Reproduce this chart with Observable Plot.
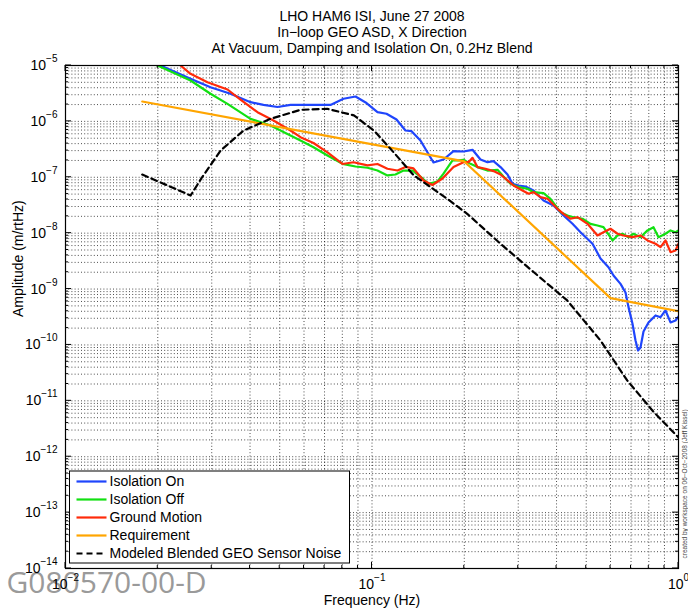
<!DOCTYPE html>
<html><head><meta charset="utf-8">
<script src="https://cdn.jsdelivr.net/npm/d3@7"></script>
<script src="https://cdn.jsdelivr.net/npm/@observablehq/plot@0.6"></script>
<style>
html,body{margin:0;padding:0;background:#fff;overflow:hidden;}
#chart{width:688px;height:611px;}
</style></head><body><div id="chart"></div>
<script>
const FONT = "'Liberation Sans', Arial, Helvetica, sans-serif";

const titleLines = ["LHO HAM6 ISI, June 27 2008", "In\u2212loop GEO ASD, X Direction", "At Vacuum, Damping and Isolation On, 0.2Hz Blend"];
const xLabel = "Frequency (Hz)";
const yLabel = "Amplitude (m/rtHz)";
const watermark = "G080570-00-D";
const creditText = "created by workspace on 06\u2212Oct\u22122008 (Jeff Kissel)";

const xMajorTicks = [0.01, 0.1, 1];
const yMajorTicks = [1e-14, 1e-13, 1e-12, 1e-11, 1e-10, 1e-9, 1e-8, 1e-7, 1e-6, 1e-5];
const minorMantissas = [2, 3, 4, 5, 6, 7, 8, 9];

const legendLabels = ["Isolation On", "Isolation Off", "Ground Motion", "Requirement", "Modeled Blended GEO Sensor Noise"];
const legendColors = ["#1f45fc", "#12e012", "#ff2a0a", "#ffa500", "#000000"];
const legendDash = [null, null, null, null, "6,4"];

const isoOnFreq = [0.01783,0.02042,0.02558,0.02972,0.03454,0.04014,0.04426,0.04917,0.05421,0.0630,0.0732,0.08072,0.08834,0.09596,0.1042,0.1115,0.1202,0.1286,0.1346,0.1439,0.1587,0.1711,0.1845,0.1989,0.2128,0.2259,0.2381,0.2491,0.2626,0.2768,0.2874,0.3006,0.3168,0.3365,0.3627,0.3910,0.4215,0.4510,0.4790,0.5241,0.5565,0.5910,0.6137,0.6469,0.6716,0.6869,0.7078,0.7240,0.7378,0.7516,0.7688,0.7982,0.8414,0.8736,0.9070,0.9417,0.9777,1.0];
const isoOnAmp = [1.39e-5,1.0e-5,5.78e-6,4.09e-6,3.12e-6,2.21e-6,1.98e-6,1.81e-6,1.97e-6,1.98e-6,1.97e-6,2.54e-6,2.79e-6,2.13e-6,1.46e-6,1.37e-6,1.08e-6,6.87e-7,6.68e-7,4.55e-7,1.84e-7,2.08e-7,2.93e-7,2.89e-7,3.10e-7,2.08e-7,1.86e-7,1.94e-7,1.52e-7,1.12e-7,7.65e-8,7.13e-8,6.84e-8,5.81e-8,3.85e-8,3.13e-8,2.07e-8,1.47e-8,1.04e-8,6.46e-9,3.53e-9,2.46e-9,1.75e-9,1.24e-9,8.69e-10,4.75e-10,2.39e-10,1.20e-10,7.97e-11,9.02e-11,1.74e-10,2.53e-10,3.37e-10,3.14e-10,4.14e-10,2.53e-10,2.74e-10,3.23e-10];

const isoOffFreq = [0.01783,0.01996,0.02558,0.02972,0.03377,0.04014,0.04665,0.05421,0.05844,0.06443,0.07157,0.08013,0.08834,0.09667,0.1042,0.1123,0.1193,0.1267,0.1356,0.1439,0.1529,0.1636,0.1711,0.1831,0.1915,0.1989,0.2096,0.2209,0.2381,0.2567,0.2685,0.2831,0.3006,0.3216,0.3365,0.3627,0.3823,0.4121,0.4343,0.4544,0.4862,0.5163,0.5441,0.5692,0.6091,0.6324,0.6566,0.6869,0.7132,0.7516,0.7923,0.8288,0.8605,0.9070,0.9417,0.9777,1.0];
const isoOffAmp = [1.31e-5,1.0e-5,5.39e-6,3.12e-6,2.06e-6,1.11e-6,8.45e-7,5.59e-7,4.55e-7,3.45e-7,2.45e-7,1.74e-7,1.56e-7,1.48e-7,1.32e-7,1.08e-7,1.12e-7,1.32e-7,1.32e-7,1.03e-7,7.65e-8,8.41e-8,1.16e-7,2.00e-7,2.00e-7,2.06e-7,1.74e-7,1.52e-7,1.32e-7,1.36e-7,1.03e-7,7.65e-8,6.65e-8,6.23e-8,5.41e-8,5.19e-8,4.12e-8,2.38e-8,2.07e-8,1.93e-8,1.81e-8,1.47e-8,1.37e-8,1.28e-8,7.40e-9,9.10e-9,9.76e-9,8.48e-9,9.76e-9,8.48e-9,1.12e-8,1.28e-8,8.48e-9,9.76e-9,1.12e-8,1.04e-8,1.12e-8];

const groundFreq = [0.02201,0.02373,0.02558,0.02906,0.03377,0.03724,0.04231,0.04771,0.05421,0.05844,0.06443,0.07157,0.08013,0.08702,0.09667,0.1042,0.1123,0.1211,0.1286,0.1366,0.1472,0.1575,0.1698,0.1845,0.1989,0.2065,0.2128,0.2209,0.2346,0.2491,0.2626,0.2768,0.2895,0.3097,0.3240,0.3365,0.3547,0.3738,0.4029,0.4215,0.4442,0.4683,0.5048,0.5441,0.5692,0.5999,0.6324,0.6616,0.7078,0.7516,0.7923,0.8414,0.8736,0.9070,0.9417,0.9777,1.0];
const groundAmp = [1.39e-5,1.0e-5,7.10e-6,5.03e-6,3.72e-6,2.46e-6,1.46e-6,1.04e-6,6.87e-7,5.22e-7,4.11e-7,2.78e-7,1.73e-7,1.86e-7,1.63e-7,1.73e-7,1.42e-7,1.32e-7,1.53e-7,1.44e-7,8.77e-8,7.28e-8,9.52e-8,1.53e-7,1.86e-7,1.86e-7,2.23e-7,1.52e-7,1.42e-7,1.29e-7,1.12e-7,8.77e-8,7.13e-8,5.81e-8,5.07e-8,5.41e-8,4.41e-8,4.12e-8,2.73e-8,2.22e-8,1.81e-8,1.93e-8,1.47e-8,9.10e-9,1.04e-8,1.20e-8,9.76e-9,9.10e-9,8.48e-9,9.10e-9,7.40e-9,6.46e-9,5.62e-9,7.40e-9,4.57e-9,4.90e-9,6.46e-9];

const reqFreq = [0.0178, 0.2, 0.6, 1.0];
const reqAmp = [2.27e-6, 1.92e-7, 6.87e-10, 4.03e-10];

const noiseFreq = [0.0178,0.0256,0.0279,0.0321,0.0381,0.0466,0.0585,0.0714,0.0873,0.1014,0.1149,0.1369,0.176,0.2045,0.2626,0.3373,0.4334,0.5566,0.68,0.8307,1.0];
const noiseAmp = [1.12e-7,4.72e-8,1.0e-7,3.02e-7,6.87e-7,1.11e-6,1.61e-6,1.68e-6,1.28e-6,6.87e-7,3.24e-7,1.08e-7,4.12e-8,2.22e-8,6.46e-9,2.0e-9,6.25e-10,1.2e-10,2.32e-11,6.28e-12,2.21e-12];

const toRows = (fs, as) => fs.map((f, i) => ({f, a: as[i]}));
const isoOn = toRows(isoOnFreq, isoOnAmp);
const isoOff = toRows(isoOffFreq, isoOffAmp);
const ground = toRows(groundFreq, groundAmp);
const req = toRows(reqFreq, reqAmp);
const noise = toRows(noiseFreq, noiseAmp);

const xMinorTicks = xMajorTicks.slice(0, -1).flatMap(d => minorMantissas.map(m => m * d));
const yMinorTicks = yMajorTicks.slice(0, -1).flatMap(d => minorMantissas.map(m => m * d));
const expFmt = d => "10^" + String(Math.round(Math.log10(d))).replace("-", "\u2212");

const gridStyle = {stroke: "#000", strokeOpacity: 0.7, strokeWidth: 1, strokeDasharray: "1,2.2"};
const LW = 2.2;

const plot = Plot.plot({
  width: 688, height: 611,
  marginTop: 65, marginBottom: 43, marginLeft: 65, marginRight: 10,
  style: {fontFamily: FONT, fontSize: "14px", background: "#fff", color: "#000", overflow: "hidden"},
  x: {type: "log", domain: [0.01, 1]},
  y: {type: "log", domain: [1e-14, 1e-5]},
  marks: [
    Plot.gridX({ticks: xMinorTicks.concat(xMajorTicks), ...gridStyle}),
    Plot.gridY({ticks: yMinorTicks.concat(yMajorTicks), ...gridStyle}),
    Plot.text([watermark], {text: d => d, frameAnchor: "bottom-left", textAnchor: "start", lineAnchor: "middle", dx: -59, dy: 15, fontSize: 30, fontFamily: "'Open Sans', 'Noto Sans', sans-serif", fill: "#9a9a9a"}),
    Plot.line(isoOn, {x: "f", y: "a", stroke: legendColors[0], strokeWidth: LW, clip: true}),
    Plot.line(isoOff, {x: "f", y: "a", stroke: legendColors[1], strokeWidth: LW, clip: true}),
    Plot.line(ground, {x: "f", y: "a", stroke: legendColors[2], strokeWidth: LW, clip: true}),
    Plot.line(req, {x: "f", y: "a", stroke: legendColors[3], strokeWidth: LW, clip: true}),
    Plot.line(noise, {x: "f", y: "a", stroke: legendColors[4], strokeWidth: LW, strokeDasharray: legendDash[4], clip: true}),
    Plot.frame({stroke: "#000", strokeWidth: 1.2}),
    Plot.axisX({ticks: xMajorTicks, tickFormat: expFmt, tickSize: 0, tickPadding: 11, fontSize: 14, label: null}),
    Plot.axisY({ticks: yMajorTicks, tickFormat: expFmt, tickSize: 0, tickPadding: 8, fontSize: 14, label: null}),
    Plot.text([titleLines.join("\n")], {text: d => d, frameAnchor: "top", lineAnchor: "middle", dy: -34, lineHeight: 1.15, fontSize: 14}),
    Plot.text([xLabel], {text: d => d, frameAnchor: "bottom", lineAnchor: "middle", dy: 32, fontSize: 14}),
    Plot.text([yLabel], {text: d => d, frameAnchor: "left", rotate: -90, lineAnchor: "middle", dx: -47, fontSize: 14}),
    Plot.text([creditText], {text: d => d, frameAnchor: "bottom-right", rotate: -90, textAnchor: "start", lineAnchor: "middle", dx: 6, dy: -10, fontSize: 6.5, fill: "#444"})
  ]
});

document.getElementById("chart").appendChild(plot);

const svg = d3.select(plot.tagName.toLowerCase() === "svg" ? plot : plot.querySelector("svg"));

// superscript exponents on tick labels
svg.selectAll('g[aria-label$="tick label"] text').each(function () {
  const t = this.textContent;
  const m = t.match(/^10\^(.+)$/);
  if (!m) return;
  const el = d3.select(this);
  el.text(null);
  el.append("tspan").text("10");
  el.append("tspan").attr("font-size", 10).attr("dy", -8).text(m[1]);
});

// inward ticks on all four sides, positioned with Plot's scales
const xs = plot.scale("x"), ys = plot.scale("y");
const sx = d3.scaleLog().domain(xs.domain).range(xs.range);
const sy = d3.scaleLog().domain(ys.domain).range(ys.range);
const [fx0, fx1] = xs.range;
const fyB = Math.max(...ys.range), fyT = Math.min(...ys.range);
const tg = svg.append("g").attr("stroke", "#000").attr("stroke-width", 1).attr("fill", "none");
const tick = (x1, y1, x2, y2) => tg.append("line").attr("x1", x1).attr("y1", y1).attr("x2", x2).attr("y2", y2);
xMajorTicks.forEach(v => { const x = sx(v); tick(x, fyB, x, fyB - 6); tick(x, fyT, x, fyT + 6); });
xMinorTicks.forEach(v => { const x = sx(v); tick(x, fyB, x, fyB - 3); tick(x, fyT, x, fyT + 3); });
yMajorTicks.forEach(v => { const y = sy(v); tick(fx0, y, fx0 + 6, y); tick(fx1, y, fx1 - 6, y); });
yMinorTicks.forEach(v => { const y = sy(v); tick(fx0, y, fx0 + 3, y); tick(fx1, y, fx1 - 3, y); });

// legend box
const lg = svg.append("g").attr("font-family", FONT).attr("font-size", 14).attr("text-anchor", "start");
const lx = fx0 + 4.5, lyB = fyB - 5, rowH = 18, boxH = 92, boxW = 280;
const ly = lyB - boxH;
lg.append("rect").attr("x", lx).attr("y", ly).attr("width", boxW).attr("height", boxH)
  .attr("fill", "#fff").attr("stroke", "#000").attr("stroke-width", 1);
legendLabels.forEach((name, i) => {
  const cy = ly + 10.5 + i * rowH;
  const ln = lg.append("line").attr("x1", lx + 7).attr("x2", lx + 37).attr("y1", cy).attr("y2", cy)
    .attr("stroke", legendColors[i]).attr("stroke-width", LW);
  if (legendDash[i]) ln.attr("stroke-dasharray", legendDash[i]);
  lg.append("text").attr("x", lx + 40).attr("y", cy).attr("dy", "0.35em").attr("text-anchor", "start").attr("fill", "#000").text(name);
});
</script></body></html>
